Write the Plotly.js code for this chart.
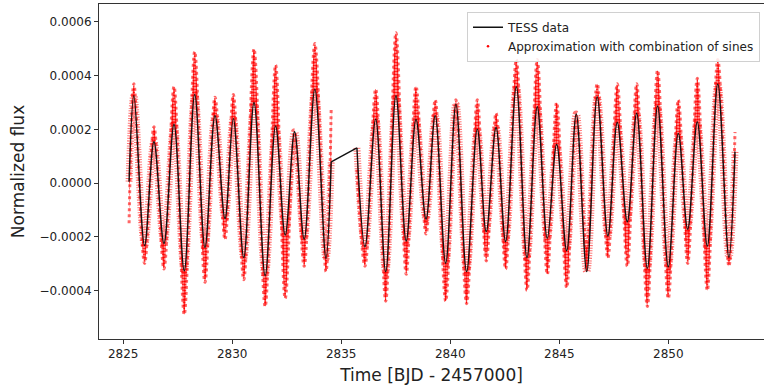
<!DOCTYPE html>
<html>
<head>
<meta charset="utf-8">
<script src="https://cdn.plot.ly/plotly-3.0.1.min.js"></script>
<style>html,body{margin:0;padding:0;background:#fff;}#chart{width:764px;height:388px;}</style>
</head>
<body>
<div id="chart"></div>
<script>
// Segment 1 (before the data gap): turning points of the TESS light curve
const tessT1 = [2825.27, 2825.49, 2825.98, 2826.41, 2826.87, 2827.33, 2827.80, 2828.28, 2828.75, 2829.21, 2829.67, 2830.05, 2830.53, 2831.00, 2831.51, 2831.99, 2832.43, 2832.86, 2833.30, 2833.79, 2834.30, 2834.54];
const tessF1 = [0.000005, 0.000325, -0.000233, 0.000154, -0.000225, 0.000219, -0.000327, 0.000330, -0.000240, 0.000251, -0.000132, 0.000240, -0.000278, 0.000300, -0.000345, 0.000213, -0.000194, 0.000191, -0.000209, 0.000350, -0.000281, 0.000079];
// Approximation (red points) extreme values at the same times
const approxF1 = [-0.00015, 0.00037, -0.00030, 0.00021, -0.00032, 0.00036, -0.00049, 0.00049, -0.00037, 0.00032, -0.00021, 0.00033, -0.00036, 0.00050, -0.00046, 0.00044, -0.00043, 0.00019, -0.00031, 0.00052, -0.00033, 0.00028];

// Segment 2 (after the data gap)
const tessT2 = [2835.72, 2836.09, 2836.58, 2837.04, 2837.51, 2837.98, 2838.43, 2838.89, 2839.31, 2839.79, 2840.26, 2840.75, 2841.24, 2841.65, 2842.10, 2842.54, 2843.03, 2843.52, 2843.99, 2844.45, 2844.88, 2845.34, 2845.78, 2846.26, 2846.74, 2847.23, 2847.66, 2848.12, 2848.55, 2849.04, 2849.51, 2850.00, 2850.46, 2850.89, 2851.33, 2851.79, 2852.27, 2852.78, 2853.06];
const tessF2 = [0.000131, -0.000237, 0.000238, -0.000330, 0.000325, -0.000216, 0.000237, -0.000134, 0.000251, -0.000299, 0.000294, -0.000330, 0.000201, -0.000181, 0.000207, -0.000218, 0.000359, -0.000278, 0.000284, -0.000206, 0.000144, -0.000252, 0.000257, -0.000330, 0.000321, -0.000197, 0.000226, -0.000144, 0.000260, -0.000318, 0.000287, -0.000312, 0.000185, -0.000172, 0.000228, -0.000235, 0.000369, -0.000277, 0.000117];
const approxF2 = [0.00005, -0.00031, 0.00035, -0.00044, 0.00056, -0.00034, 0.00036, -0.00019, 0.00031, -0.00044, 0.00031, -0.00045, 0.00031, -0.00029, 0.00026, -0.00032, 0.00046, -0.00040, 0.00046, -0.00034, 0.00030, -0.00039, 0.00025, -0.00024, 0.00037, -0.00028, 0.00037, -0.00031, 0.00037, -0.00046, 0.00042, -0.00043, 0.00031, -0.00030, 0.00039, -0.00040, 0.00046, -0.00031, 0.00019];

const seriesNames = ['TESS data', 'Approximation with combination of sines'];

const redPattern = {shape: '.', fgcolor: 'rgba(255,0,0,1)', bgcolor: 'rgba(255,40,40,0.35)', size: 3, solidity: 0.55};

function base(t, f) {
  return {x: t, y: f, mode: 'lines', line: {shape: 'spline', smoothing: 1, width: 0, color: 'rgba(0,0,0,0)'}, showlegend: false, hoverinfo: 'skip'};
}
function red(t, f) {
  return {x: t, y: f, mode: 'lines', fill: 'tonexty', fillpattern: redPattern, fillcolor: 'rgba(255,0,0,0.3)',
          line: {shape: 'spline', smoothing: 1, width: 3, color: 'rgba(255,0,0,0.6)', dash: 'dot'}, showlegend: false, hoverinfo: 'skip'};
}
function halo(t, f) {
  return {x: t, y: f, mode: 'lines', line: {shape: 'spline', smoothing: 1, width: 7, color: 'rgba(255,0,0,0.55)', dash: '1px,1.5px'}, showlegend: false, hoverinfo: 'skip'};
}
function blk(t, f, show) {
  return {x: t, y: f, mode: 'lines', name: seriesNames[0], showlegend: show,
          line: {shape: 'spline', smoothing: 1, width: 1.4, color: '#111'}};
}

const traces = [
  base(tessT1, tessF1), red(tessT1, approxF1),
  base(tessT2, tessF2), red(tessT2, approxF2),
  halo(tessT1, tessF1), halo(tessT2, tessF2),
  blk(tessT1, tessF1, true),
  {x: [tessT1[tessT1.length - 1], tessT2[0]], y: [tessF1[tessF1.length - 1], tessF2[0]], mode: 'lines', line: {width: 1.4, color: '#111'}, showlegend: false, hoverinfo: 'skip'},
  blk(tessT2, tessF2, false),
  {x: [null], y: [null], mode: 'markers', name: seriesNames[1], marker: {color: 'red', size: 2.5}}
];

const axisCommon = {showgrid: false, zeroline: false, showline: true, linecolor: '#333', linewidth: 1,
  ticks: 'outside', ticklen: 4, tickwidth: 1, tickcolor: '#333', tickfont: {size: 12, color: '#222'}};

const layout = {
  width: 764, height: 388,
  margin: {l: 99, r: 0, t: 4, b: 49},
  paper_bgcolor: '#fff', plot_bgcolor: '#fff',
  font: {family: 'DejaVu Sans, sans-serif', size: 12, color: '#222'},
  xaxis: Object.assign({}, axisCommon, {range: [2823.89, 2854.39], tick0: 2825, dtick: 5, mirror: true,
    title: {text: 'Time [BJD - 2457000]', font: {size: 17, color: '#222'}, standoff: 8}}),
  yaxis: Object.assign({}, axisCommon, {range: [-0.000581, 0.000667], tick0: 0, dtick: 0.0002, tickformat: '.4f',
    title: {text: 'Normalized flux', font: {size: 17, color: '#222'}, standoff: 10}}),
  legend: {x: 0.994, xanchor: 'right', y: 0.977, yanchor: 'top', traceorder: 'normal', bgcolor: 'rgba(255,255,255,0.85)',
    bordercolor: '#d0d0d0', borderwidth: 1, font: {size: 12, color: '#222'}, tracegroupgap: 0},
  showlegend: true
};

Plotly.newPlot('chart', traces, layout, {staticPlot: true, displayModeBar: false});
</script>
</body>
</html>
